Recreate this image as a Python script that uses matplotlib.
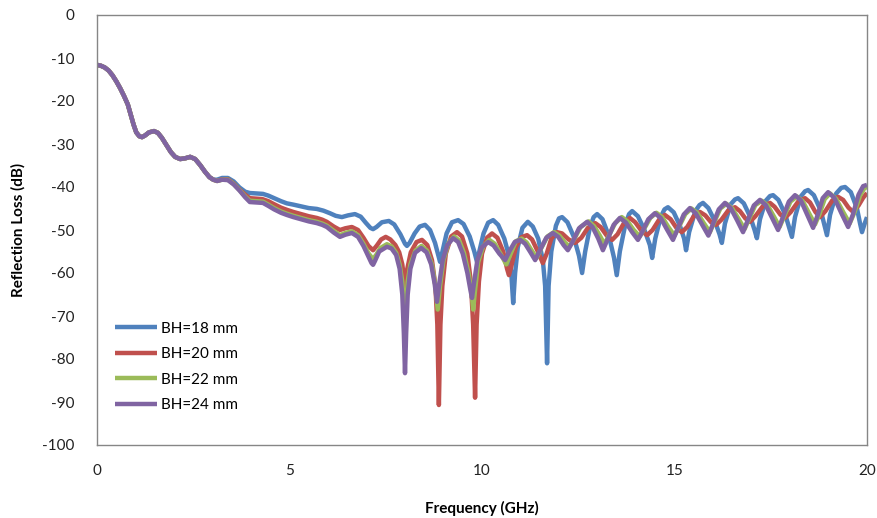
import numpy as np
import matplotlib
matplotlib.use("Agg")
import matplotlib.pyplot as plt

# shared start of all four curves (0 - 3.1 GHz)
f_start = [0, 0.1, 0.2, 0.3, 0.4, 0.5, 0.6, 0.7, 0.8, 0.88, 0.95, 1.02, 1.1,
           1.17, 1.25, 1.35, 1.48, 1.58, 1.68, 1.8, 1.92, 2.03, 2.16, 2.3, 2.42,
           2.55, 2.68, 2.8, 2.92, 3.02]
rl_start = [-11.6, -11.8, -12.2, -12.9, -14.0, -15.4, -17.0, -18.8, -20.8, -23.3,
            -25.5, -27.3, -28.2, -28.4, -28.0, -27.3, -27.0, -27.4, -28.5, -30.2,
            -31.9, -33.0, -33.5, -33.3, -33.0, -33.5, -34.9, -36.4, -37.7, -38.3]

f_18 = [3.12, 3.25, 3.4, 3.55, 3.7, 3.85, 3.97, 4.15, 4.31, 4.45, 4.6, 4.78, 4.93,
        5.1, 5.3, 5.5, 5.71, 5.88, 6.05, 6.2, 6.36, 6.52, 6.7, 6.85, 6.98, 7.1,
        7.17, 7.26, 7.4, 7.58, 7.72, 7.88, 8.0, 8.05, 8.12, 8.25, 8.38, 8.52,
        8.65, 8.78, 8.87, 8.91, 8.96, 9.08, 9.22, 9.38, 9.52, 9.68, 9.8, 9.87,
        9.93, 10.04, 10.16, 10.29, 10.42, 10.58, 10.7, 10.76, 10.81, 10.86, 10.93,
        11.05, 11.19, 11.32, 11.46, 11.58, 11.64, 11.69, 11.73, 11.8, 11.92, 12.0,
        12.08, 12.22, 12.38, 12.52, 12.6, 12.68, 12.8, 12.9, 12.99, 13.13, 13.3,
        13.43, 13.5, 13.58, 13.72, 13.82, 13.9, 14.05, 14.22, 14.36, 14.42, 14.5,
        14.64, 14.74, 14.83, 14.98, 15.14, 15.25, 15.3, 15.38, 15.54, 15.65, 15.74,
        15.88, 16.05, 16.17, 16.23, 16.31, 16.46, 16.57, 16.65, 16.8, 16.97, 17.08,
        17.14, 17.22, 17.37, 17.48, 17.56, 17.7, 17.88, 17.99, 18.05, 18.13, 18.28,
        18.39, 18.47, 18.62, 18.8, 18.9, 18.96, 19.04, 19.2, 19.33, 19.43, 19.58,
        19.74, 19.82, 19.87, 19.94, 20.0]
rl_18 = [-38.3, -37.9, -37.9, -38.7, -40.1, -41.1, -41.4, -41.5, -41.6, -42.0,
         -42.6, -43.3, -43.8, -44.1, -44.5, -44.9, -45.1, -45.5, -46.1, -46.7,
         -47.0, -46.6, -46.3, -46.9, -48.3, -49.5, -49.8, -49.3, -48.2, -47.9,
         -48.7, -51.0, -53.2, -53.7, -53.0, -50.8, -49.2, -48.8, -50.0, -53.0,
         -56.0, -57.4, -55.5, -50.8, -48.2, -47.7, -48.6, -51.5, -55.0, -57.4,
         -55.0, -50.8, -48.3, -47.7, -48.8, -52.0, -56.0, -60.0, -67.0, -60.0,
         -54.0, -49.5, -48.1, -49.2, -52.0, -57.0, -63.0, -81.0, -63.0, -55.0,
         -49.0, -47.3, -47.0, -48.2, -51.5, -56.0, -60.0, -55.0, -49.5, -47.0,
         -46.3, -47.5, -51.5, -56.5, -60.5, -55.0, -48.8, -46.3, -45.6, -46.8,
         -50.0, -53.5, -56.5, -52.0, -47.0, -45.2, -44.7, -45.9, -49.0, -52.0,
         -54.7, -50.5, -45.6, -44.2, -43.7, -44.9, -48.0, -51.0, -53.0, -48.5,
         -44.0, -42.9, -42.6, -43.8, -47.0, -50.0, -51.9, -47.5, -43.2, -42.1,
         -41.9, -43.0, -46.5, -49.8, -51.6, -47.0, -42.2, -41.0, -40.7, -41.9,
         -45.5, -49.0, -51.2, -46.5, -41.5, -40.2, -40.0, -41.2, -45.0, -48.5,
         -50.5, -48.5, -47.0]

f_20 = [3.12, 3.25, 3.4, 3.55, 3.7, 3.85, 3.97, 4.15, 4.29, 4.45, 4.6, 4.78, 4.93,
        5.1, 5.3, 5.5, 5.71, 5.85, 5.97, 6.15, 6.31, 6.45, 6.62, 6.78, 6.92, 7.05,
        7.17, 7.27, 7.38, 7.5, 7.62, 7.75, 7.85, 7.93, 8.0, 8.06, 8.15, 8.3, 8.44,
        8.58, 8.7, 8.79, 8.84, 8.88, 8.92, 8.97, 9.06, 9.2, 9.35, 9.48, 9.62,
        9.71, 9.77, 9.82, 9.86, 9.92, 10.0, 10.13, 10.26, 10.4, 10.55, 10.65,
        10.7, 10.76, 10.88, 11.02, 11.17, 11.3, 11.45, 11.58, 11.68, 11.8, 11.95,
        12.08, 12.25, 12.42, 12.58, 12.75, 12.94, 13.08, 13.24, 13.38, 13.52,
        13.68, 13.84, 13.98, 14.15, 14.29, 14.43, 14.6, 14.75, 14.9, 15.05, 15.19,
        15.33, 15.5, 15.66, 15.8, 15.95, 16.08, 16.22, 16.4, 16.57, 16.7, 16.84,
        16.96, 17.1, 17.3, 17.48, 17.6, 17.75, 17.87, 18.02, 18.22, 18.39, 18.52,
        18.66, 18.78, 18.92, 19.1, 19.25, 19.38, 19.52, 19.64, 19.78, 19.9, 20.0]
rl_20 = [-38.6, -38.2, -38.2, -39.2, -40.6, -41.8, -42.6, -42.7, -42.8, -43.3,
         -44.0, -44.8, -45.3, -45.8, -46.3, -46.8, -47.2, -47.6, -48.1, -49.2,
         -50.0, -49.6, -49.3, -50.0, -51.8, -53.7, -54.7, -53.6, -52.2, -51.6,
         -52.2, -53.5, -55.2, -58.0, -63.2, -59.0, -55.2, -52.8, -52.3, -53.5,
         -57.0, -63.0, -72.0, -90.7, -72.0, -63.0, -55.5, -51.5, -50.5, -51.5,
         -55.5, -62.0, -72.0, -89.0, -72.0, -62.0, -55.5, -51.8, -50.8, -51.8,
         -55.0, -59.0, -60.5, -58.5, -54.0, -51.7, -51.2, -52.2, -55.0, -57.7,
         -55.5, -52.0, -50.5, -50.8, -52.2, -53.0, -51.8, -49.5, -48.4, -49.3,
         -51.3, -52.3, -51.0, -48.5, -47.2, -48.2, -50.3, -51.2, -50.0, -47.6,
         -46.5, -47.5, -49.5, -50.5, -49.3, -46.8, -45.8, -46.6, -48.2, -48.8,
         -47.6, -45.4, -44.7, -45.6, -47.3, -48.1, -46.8, -44.4, -43.7, -44.6,
         -46.4, -47.2, -45.8, -43.3, -42.6, -43.6, -45.8, -47.0, -45.6, -43.1,
         -42.3, -43.0, -44.8, -45.8, -44.3, -42.5, -41.4]

f_22 = [3.12, 3.25, 3.4, 3.55, 3.7, 3.85, 3.97, 4.15, 4.31, 4.45, 4.6, 4.78, 4.93,
        5.1, 5.3, 5.5, 5.71, 5.85, 5.97, 6.15, 6.31, 6.45, 6.62, 6.78, 6.92, 7.05,
        7.17, 7.25, 7.36, 7.53, 7.65, 7.77, 7.86, 7.93, 8.0, 8.07, 8.14, 8.27,
        8.43, 8.57, 8.7, 8.79, 8.85, 8.91, 9.0, 9.13, 9.28, 9.41, 9.53, 9.65,
        9.73, 9.77, 9.82, 9.9, 10.03, 10.19, 10.33, 10.48, 10.63, 10.75, 10.88,
        11.03, 11.16, 11.3, 11.42, 11.54, 11.7, 11.87, 12.01, 12.15, 12.27, 12.39,
        12.56, 12.77, 12.91, 13.06, 13.18, 13.3, 13.46, 13.63, 13.78, 13.94, 14.1,
        14.22, 14.37, 14.53, 14.68, 14.84, 15.0, 15.12, 15.28, 15.44, 15.59, 15.76,
        15.92, 16.04, 16.19, 16.35, 16.5, 16.67, 16.82, 16.94, 17.1, 17.27, 17.42,
        17.59, 17.73, 17.85, 18.01, 18.18, 18.33, 18.5, 18.65, 18.77, 18.9, 19.04,
        19.2, 19.38, 19.55, 19.67, 19.82, 19.93, 20.0]
rl_22 = [-38.6, -38.3, -38.3, -39.3, -40.7, -42.2, -43.2, -43.3, -43.4, -44.1,
         -44.9, -45.7, -46.2, -46.7, -47.2, -47.7, -48.1, -48.5, -49.0, -50.2,
         -51.2, -50.7, -50.3, -51.2, -53.2, -55.4, -56.8, -55.8, -54.2, -53.3,
         -53.8, -55.3, -58.0, -62.0, -72.0, -62.0, -58.0, -54.8, -53.7, -54.8,
         -58.0, -63.0, -68.5, -63.0, -57.0, -53.0, -51.5, -52.5, -55.3, -60.0,
         -64.5, -68.5, -64.0, -57.5, -53.8, -52.3, -53.2, -55.5, -58.0, -55.4,
         -52.6, -52.0, -52.9, -54.9, -56.5, -54.2, -51.5, -50.5, -51.3, -52.9,
         -53.8, -52.2, -49.3, -48.0, -49.1, -51.3, -53.3, -51.2, -48.4, -47.0,
         -48.0, -50.0, -51.5, -49.6, -47.2, -46.0, -47.0, -49.3, -51.3, -49.2,
         -46.3, -45.0, -46.0, -48.4, -50.5, -48.0, -45.0, -43.9, -45.0, -47.5,
         -49.8, -47.4, -44.2, -43.2, -44.3, -47.0, -49.3, -46.8, -43.4, -42.2,
         -43.3, -46.2, -48.7, -46.2, -42.8, -41.5, -42.8, -45.8, -48.5, -46.0,
         -42.0, -40.3, -40.0]

f_24 = [3.12, 3.25, 3.4, 3.55, 3.7, 3.85, 3.97, 4.15, 4.31, 4.45, 4.6, 4.78, 4.93,
        5.1, 5.3, 5.5, 5.71, 5.85, 5.97, 6.15, 6.31, 6.45, 6.62, 6.78, 6.92, 7.05,
        7.13, 7.17, 7.22, 7.33, 7.53, 7.65, 7.77, 7.86, 7.93, 7.97, 8.0, 8.03,
        8.07, 8.14, 8.26, 8.42, 8.56, 8.68, 8.77, 8.83, 8.89, 8.98, 9.1, 9.25,
        9.38, 9.5, 9.62, 9.7, 9.74, 9.79, 9.88, 10.0, 10.16, 10.3, 10.45, 10.6,
        10.72, 10.85, 10.99, 11.12, 11.26, 11.38, 11.5, 11.67, 11.84, 11.98, 12.12,
        12.23, 12.35, 12.52, 12.73, 12.87, 13.02, 13.14, 13.26, 13.42, 13.58,
        13.74, 13.9, 14.05, 14.17, 14.32, 14.49, 14.64, 14.8, 14.96, 15.08, 15.24,
        15.4, 15.55, 15.72, 15.88, 16.0, 16.15, 16.31, 16.46, 16.63, 16.78, 16.9,
        17.06, 17.22, 17.37, 17.54, 17.69, 17.81, 17.97, 18.13, 18.28, 18.45,
        18.6, 18.72, 18.85, 18.99, 19.15, 19.33, 19.51, 19.63, 19.78, 19.9, 20.0]
rl_24 = [-38.6, -38.3, -38.4, -39.4, -40.8, -42.4, -43.5, -43.6, -43.7, -44.4,
         -45.2, -46.0, -46.5, -47.0, -47.5, -48.0, -48.4, -48.8, -49.3, -50.6,
         -51.6, -51.1, -50.7, -51.6, -53.7, -56.2, -57.7, -58.1, -57.2, -55.0,
         -53.9, -54.3, -55.8, -59.0, -65.0, -74.0, -83.3, -74.0, -65.0, -59.0,
         -55.3, -54.2, -55.2, -58.0, -62.5, -66.7, -62.5, -57.0, -53.5, -51.9,
         -52.8, -55.5, -60.0, -64.0, -65.8, -62.5, -57.0, -54.0, -52.8, -53.6,
         -55.5, -57.0, -54.8, -52.8, -52.3, -53.2, -55.2, -57.0, -54.8, -51.8,
         -50.7, -51.6, -53.5, -54.7, -52.8, -49.6, -48.1, -49.3, -52.0, -54.7,
         -52.2, -48.8, -47.2, -48.3, -50.5, -52.3, -50.3, -47.5, -46.1, -47.2,
         -49.8, -52.3, -49.8, -46.4, -44.9, -46.1, -48.8, -51.3, -48.6, -45.2,
         -43.7, -44.9, -47.8, -50.5, -47.8, -44.3, -43.0, -44.2, -47.3, -50.0,
         -47.2, -43.4, -41.9, -43.1, -46.5, -49.5, -46.5, -42.6, -41.2, -42.5,
         -46.0, -49.3, -46.5, -41.8, -39.8, -39.5]

labels = ['BH=18 mm', 'BH=20 mm', 'BH=22 mm', 'BH=24 mm']
colors = ['#4F81BD', '#C0504D', '#9BBB59', '#8064A2']
series = [(f_18, rl_18), (f_20, rl_20), (f_22, rl_22), (f_24, rl_24)]

plt.rcParams['font.family'] = ['Lato', 'DejaVu Sans']
plt.rcParams['axes.unicode_minus'] = False

fig = plt.figure(figsize=(8.77, 5.18), dpi=100)
ax = fig.add_axes([97/877, 1-445/518, 770/877, 430/518])

for (f, rl), lab, c in zip(series, labels, colors):
    x = np.concatenate([f_start, f])
    y = np.concatenate([rl_start, rl])
    ax.plot(x, y, color=c, lw=3.2, label=lab, solid_joinstyle='round',
            solid_capstyle='butt')

ax.set_xlim(0, 20)
ax.set_ylim(-100, 0)
ax.set_xticks([0, 5, 10, 15, 20])
ax.set_yticks(range(-100, 1, 10))
ax.tick_params(length=0, labelsize=11, pad=14, colors='#222222')
ax.tick_params(axis='y', pad=16)
for s in ax.spines.values():
    s.set_color('#868686')
    s.set_linewidth(1)

ax.set_xlabel('Frequency (GHz)', fontsize=11, fontweight='bold', labelpad=16)
ax.set_ylabel('Reflection Loss (dB)', fontsize=11, fontweight='bold', labelpad=12)

ax.legend(loc='upper left', bbox_to_anchor=(0.024, 0.287), borderaxespad=0,
          borderpad=0, frameon=False, fontsize=11, handlelength=2.7,
          handletextpad=0.25, labelspacing=0.75)

fig.savefig('out.png', dpi=100)
